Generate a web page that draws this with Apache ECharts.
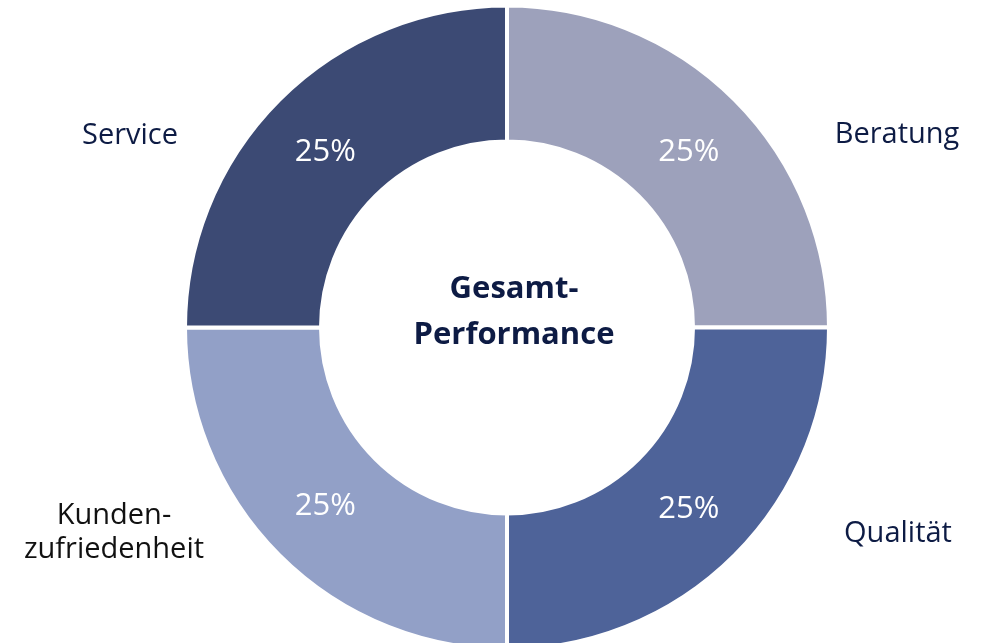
<!DOCTYPE html>
<html>
<head>
<meta charset="utf-8">
<script src="https://cdn.jsdelivr.net/npm/echarts@6/dist/echarts.min.js"></script>
<style>
html,body{margin:0;padding:0;background:#fff;}
#chart{width:982px;height:643px;}
</style>
</head>
<body>
<div id="chart"></div>
<script>
const categories = ['Beratung', 'Qualität', 'Kunden-\nzufriedenheit', 'Service'];
const values = [25, 25, 25, 25];
const colors = ['#9da1bb', '#4e6399', '#92a0c7', '#3c4a74'];
const centerTitle = 'Gesamt-\nPerformance';

const chart = echarts.init(document.getElementById('chart'), null, {renderer: 'canvas'});
const FONT = '"Open Sans", "Noto Sans", sans-serif';

const labelPos = [
  {x: 897, y: 135, align: 'center', fill: '#0d1b44', size: 29, lh: 39},
  {x: 898, y: 534, align: 'center', fill: '#0d1b44', size: 29, lh: 39},
  {x: 114, y: 533, align: 'center', fill: '#111111', size: 29, lh: 34},
  {x: 130, y: 136, align: 'center', fill: '#0d1b44', size: 29, lh: 39}
];
const pctOffset = [[0, 6], [0, 0], [0, -3], [0, 6]];

chart.setOption({
  animation: false,
  backgroundColor: '#ffffff',
  series: [{
    type: 'pie',
    center: [507, 327.5],
    radius: [186, 322],
    startAngle: 90,
    clockwise: true,
    silent: true,
    itemStyle: {borderColor: '#ffffff', borderWidth: 4},
    label: {
      show: true,
      position: 'inside',
      formatter: '{c}%',
      color: '#ffffff',
      fontFamily: FONT,
      fontSize: 31,
      fontWeight: 'normal'
    },
    labelLine: {show: false},
    data: categories.map((n, i) => ({
      name: n, value: values[i],
      itemStyle: {color: colors[i]},
      label: {offset: pctOffset[i]}
    }))
  }],
  graphic: [
    {
      type: 'text',
      x: 514, y: 312,
      style: {
        text: centerTitle,
        align: 'center',
        verticalAlign: 'middle',
        fontFamily: FONT,
        fontSize: 31,
        fontWeight: 'bold',
        lineHeight: 46,
        fill: '#0d1b44'
      }
    }
  ].concat(categories.map((n, i) => ({
    type: 'text',
    x: labelPos[i].x,
    y: labelPos[i].y,
    style: {
      text: n,
      align: labelPos[i].align,
      verticalAlign: 'middle',
      fontFamily: FONT,
      fontSize: labelPos[i].size,
      lineHeight: labelPos[i].lh,
      fill: labelPos[i].fill
    }
  })))
});
</script>
</body>
</html>
